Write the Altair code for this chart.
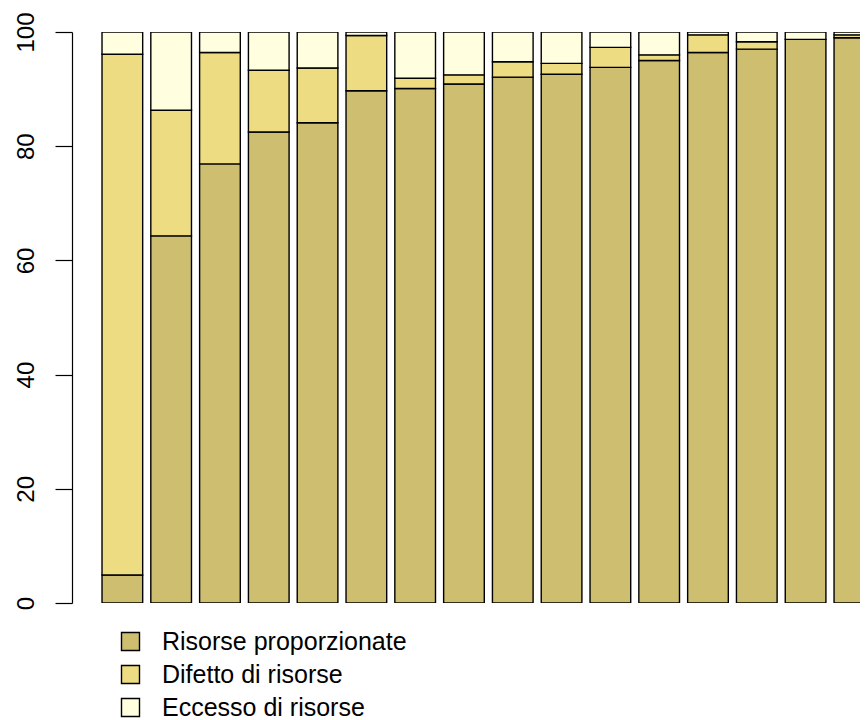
import altair as alt
import pandas as pd

categories = ["Risorse proporzionate", "Difetto di risorse", "Eccesso di risorse"]
colors = ["#CDBE70", "#EEDC82", "#FFFFE0"]

proporzionate = [4.9, 64.3, 76.9, 82.5, 84.1, 89.7, 90.1, 90.9, 92.1, 92.6, 93.8, 95.0, 96.4, 97.0, 98.7, 99.0]
difetto = [91.2, 22.0, 19.5, 10.8, 9.6, 9.7, 1.8, 1.6, 2.7, 1.9, 3.5, 1.0, 3.1, 1.3, 0.0, 0.5]
eccesso = [3.9, 13.7, 3.6, 6.7, 6.3, 0.6, 8.1, 7.5, 5.2, 5.5, 2.7, 4.0, 0.5, 1.7, 1.3, 0.5]

rows = []
for i in range(len(proporzionate)):
    base = 0.0
    for cat, val in zip(categories, [proporzionate[i], difetto[i], eccesso[i]]):
        rows.append({"idx": i, "cat": cat, "y0": base, "y1": base + val})
        base += val
df = pd.DataFrame(rows)

FONT = "Liberation Sans"

chart = (
    alt.Chart(df)
    .transform_calculate(x0="0.2 + 1.2 * datum.idx", x1="1.2 + 1.2 * datum.idx")
    .mark_rect(stroke="black", strokeWidth=1.4, clip=True)
    .encode(
        x=alt.X("x0:Q", scale=alt.Scale(domain=[-0.538, 18.838], nice=False, zero=False), axis=None),
        x2="x1:Q",
        y=alt.Y(
            "y0:Q",
            scale=alt.Scale(domain=[0, 100], nice=False),
            axis=alt.Axis(
                values=[0, 20, 40, 60, 80, 100],
                grid=False,
                title=None,
                domainColor="black",
                domainWidth=1.2,
                tickColor="black",
                tickWidth=1.2,
                tickSize=17,
                labelAngle=270,
                labelAlign="center",
                labelBaseline="alphabetic",
                labelPadding=22,
                labelFont=FONT,
                labelFontSize=24,
                labelColor="black",
            ),
        ),
        y2="y1:Q",
        color=alt.Color(
            "cat:N",
            scale=alt.Scale(domain=categories, range=colors),
            sort=categories,
            legend=alt.Legend(
                title=None,
                orient="none",
                legendX=46,
                legendY=597,
                padding=0,
                symbolType="square",
                symbolSize=324,
                symbolStrokeColor="black",
                symbolStrokeWidth=1.4,
                symbolOpacity=1,
                labelFont=FONT,
                labelFontSize=25,
                labelColor="black",
                labelOffset=19,
                labelLimit=0,
                rowPadding=7,
            ),
        ),
    )
    .properties(
        width=788,
        height=571,
        autosize=alt.AutoSizeParams(type="none"),
        padding={"left": 64, "top": 24, "right": 0, "bottom": 121},
    )
    .configure_view(stroke=None)
)

chart.save("out.html", embed_options={"renderer": "svg", "actions": False})
